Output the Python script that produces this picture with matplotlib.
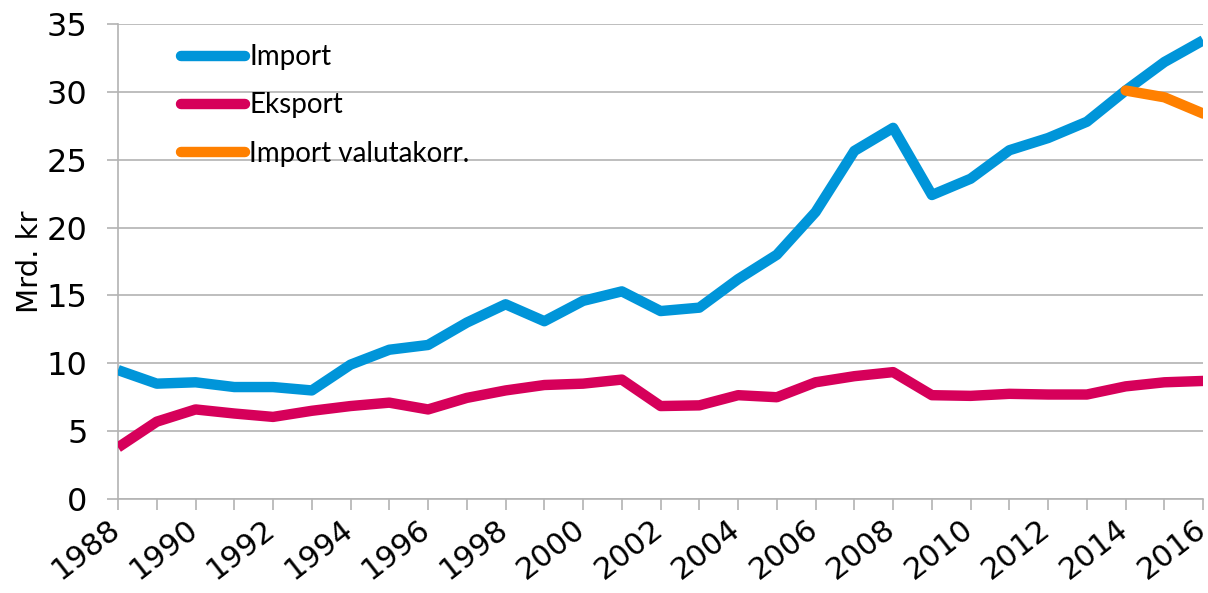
import matplotlib
matplotlib.use('Agg')
import matplotlib.pyplot as plt
import matplotlib.transforms as mtransforms
import numpy as np

years = list(range(1988, 2017))
import_vals = [9.5, 8.5, 8.6, 8.25, 8.25, 8.0, 9.9, 11.0, 11.35, 13.0, 14.35, 13.1, 14.6, 15.3,
               13.85, 14.1, 16.2, 18.0, 21.15, 25.65, 27.35, 22.4, 23.6, 25.7, 26.6, 27.8, 30.1, 32.2, 33.8]
eksport_vals = [3.8, 5.7, 6.6, 6.3, 6.05, 6.5, 6.85, 7.1, 6.6, 7.45, 8.0, 8.4, 8.5, 8.8,
                6.85, 6.9, 7.65, 7.5, 8.6, 9.05, 9.35, 7.65, 7.6, 7.75, 7.7, 7.7, 8.3, 8.6, 8.7]
valuta_years = [2014, 2015, 2016]
valuta_vals = [30.1, 29.6, 28.4]

fig = plt.figure(figsize=(12.08, 5.93), dpi=100)
ax = fig.add_axes([0.0977, 0.1585, 0.8983, 0.801])

lw = 7.5
ax.plot(years, import_vals, color='#0095d9', lw=lw, solid_capstyle='butt', solid_joinstyle='round', label='Import', zorder=3)
ax.plot(years, eksport_vals, color='#d6005a', lw=lw, solid_capstyle='butt', solid_joinstyle='round', label='Eksport', zorder=3)
ax.plot(valuta_years, valuta_vals, color='#ff8000', lw=lw, solid_capstyle='round', solid_joinstyle='round',
        label='Import valutakorr.', zorder=4)

ax.set_xlim(1988, 2016)
ax.set_ylim(0, 35)
ax.set_yticks(range(0, 36, 5))
ax.set_xticks(range(1988, 2017, 2))
ax.set_xticks(range(1988, 2017), minor=True)
ax.grid(axis='y', color='#b3b3b3', lw=1.2)
ax.set_axisbelow(True)

for s in ['top', 'right']:
    ax.spines[s].set_visible(False)
ax.spines['left'].set_color('#b3b3b3')
ax.spines['bottom'].set_color('#b3b3b3')
ax.spines['left'].set_linewidth(1.2)
ax.spines['bottom'].set_linewidth(1.2)

ax.tick_params(axis='y', which='major', length=8, color='#b3b3b3', width=1.2, labelsize=23, pad=14)
ax.tick_params(axis='x', which='both', length=8, color='#b3b3b3', width=1.2, direction='out')
ax.tick_params(axis='x', which='major', labelsize=22, pad=3)
shift = mtransforms.ScaledTranslation(-10 / 100, 0, fig.dpi_scale_trans)
for lab in ax.get_xticklabels():
    lab.set_rotation(38)
    lab.set_ha('right')
    lab.set_rotation_mode('anchor')
    lab.set_transform(lab.get_transform() + shift)

ax.set_ylabel('Mrd. kr', fontsize=21, labelpad=2)

leg = ax.legend(loc='upper left', bbox_to_anchor=(0.035, 1.01), frameon=False,
                handlelength=2.3, handletextpad=0.15, labelspacing=0.8,
                prop={'family': 'Lato', 'size': 20})
for line in leg.get_lines():
    line.set_linewidth(7.5)
    line.set_solid_capstyle('round')

plt.savefig('out.png', dpi=100)
